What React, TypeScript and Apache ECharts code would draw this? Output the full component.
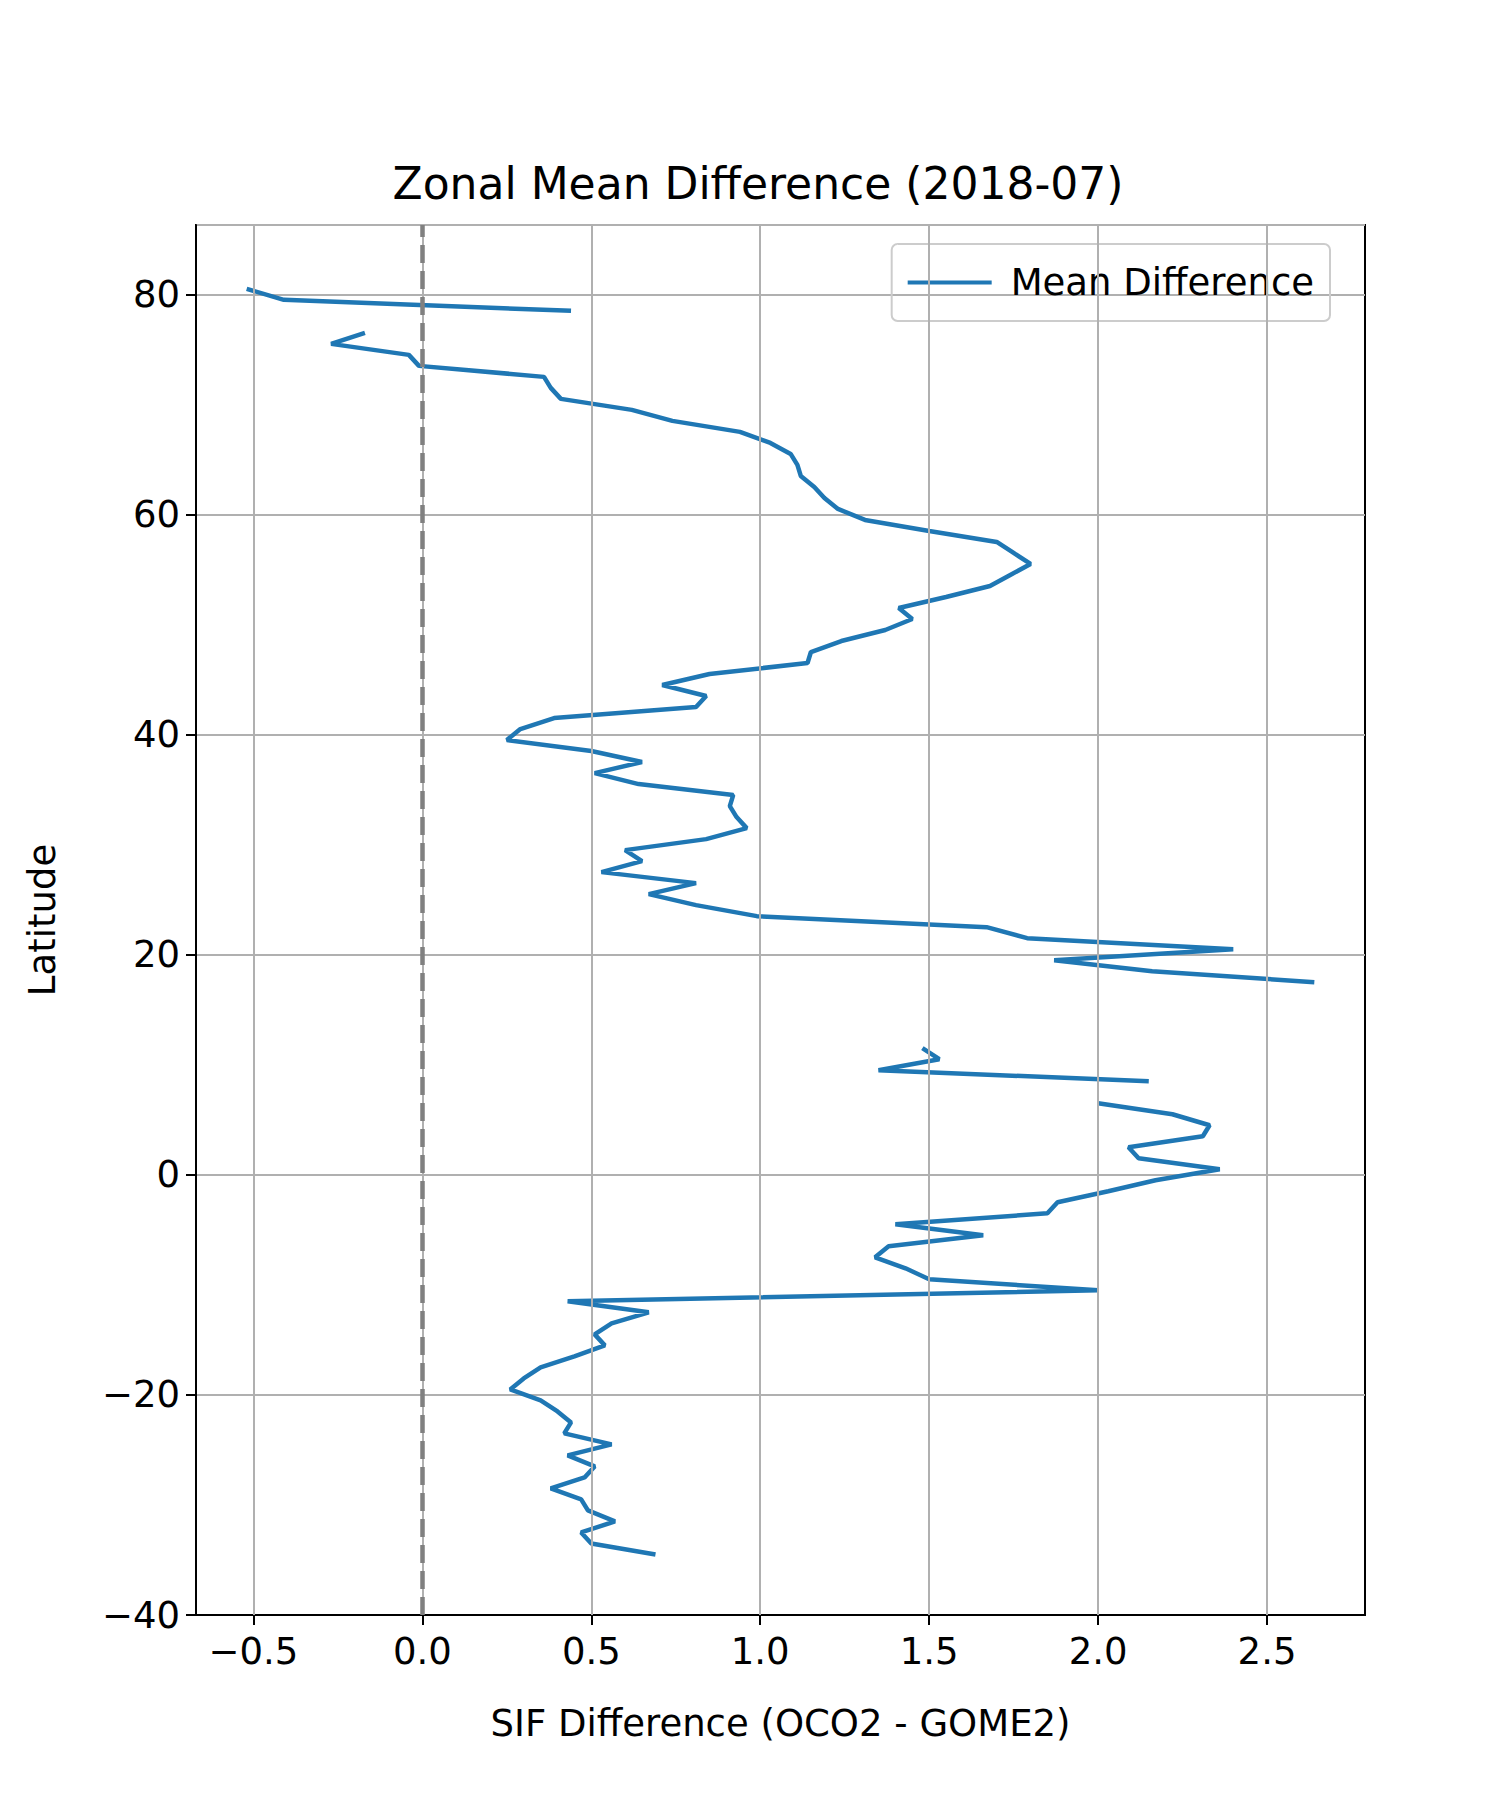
import React, { useEffect, useRef } from "react";
import * as echarts from "echarts";

const latitudes = [80.5,79.5,78.5,77.5,76.5,75.5,74.5,73.5,72.5,71.5,70.5,69.5,68.5,67.5,66.5,65.5,64.5,63.5,62.5,61.5,60.5,59.5,58.5,57.5,56.5,55.5,54.5,53.5,52.5,51.5,50.5,49.5,48.5,47.5,46.5,45.5,44.5,43.5,42.5,41.5,40.5,39.5,38.5,37.5,36.5,35.5,34.5,33.5,32.5,31.5,30.5,29.5,28.5,27.5,26.5,25.5,24.5,23.5,22.5,21.5,20.5,19.5,18.5,17.5,16.5,15.5,14.5,13.5,12.5,11.5,10.5,9.5,8.5,7.5,6.5,5.5,4.5,3.5,2.5,1.5,0.5,-0.5,-1.5,-2.5,-3.5,-4.5,-5.5,-6.5,-7.5,-8.5,-9.5,-10.5,-11.5,-12.5,-13.5,-14.5,-15.5,-16.5,-17.5,-18.5,-19.5,-20.5,-21.5,-22.5,-23.5,-24.5,-25.5,-26.5,-27.5,-28.5,-29.5,-30.5,-31.5,-32.5,-33.5,-34.5];
const meanDiff: (number | null)[] = [-0.52,-0.41,0.44,null,-0.17,-0.27,-0.04,-0.01,0.36,0.38,0.41,0.62,0.74,0.94,1.03,1.09,1.11,1.12,1.16,1.19,1.23,1.31,1.5,1.70,1.75,1.80,1.74,1.68,1.55,1.41,1.45,1.37,1.24,1.15,1.14,0.85,0.71,0.84,0.81,0.39,0.29,0.25,0.50,0.65,0.51,0.64,0.92,0.91,0.93,0.96,0.84,0.60,0.65,0.53,0.81,0.67,0.81,0.99,1.67,1.79,2.40,1.87,2.16,2.64,null,null,null,null,null,1.48,1.53,1.35,2.15,null,2.00,2.22,2.33,2.31,2.09,2.12,2.36,2.17,2.03,1.88,1.85,1.40,1.66,1.38,1.34,1.43,1.50,2.00,0.43,0.67,0.56,0.51,0.54,0.45,0.35,0.30,0.26,0.35,0.40,0.44,0.42,0.56,0.43,0.51,0.48,0.38,0.47,0.49,0.57,0.47,0.50,0.69];
const xTicks = [-0.5,0,0.5,1,1.5,2,2.5];

export default function App() {
  const ref = useRef<HTMLDivElement>(null);
  useEffect(() => {
    const chart = echarts.init(ref.current!, null, { renderer: "svg" });
    const data = latitudes.map((lat, i) => (meanDiff[i] === null ? [null, lat] : [meanDiff[i], lat]));
    const font = "DejaVu Sans";
    chart.setOption({
      animation: false,
      backgroundColor: "#fff",
      textStyle: { fontFamily: font },
      title: { text: "Zonal Mean Difference (2018-07)", left: "center", top: 148, textStyle: { fontFamily: font, fontSize: 44, fontWeight: "normal", color: "#000" } },
      legend: {
        right: 178, top: 236, orient: "vertical", itemWidth: 84, itemHeight: 4, itemGap: 10,
        padding: [20, 16, 20, 16], borderColor: "#ccc", borderWidth: 2, borderRadius: 6,
        textStyle: { fontSize: 37, color: "#000", fontFamily: font, padding: [0, 0, 0, 14] },
        data: [{ name: "Mean Difference", icon: "rect" }],
      },
      grid: { left: 188, right: 143, top: 217, bottom: 193, show: true, borderColor: "#000", borderWidth: 2 },
      xAxis: {
        type: "value", min: -0.67, max: 2.79, interval: 0.5,
        name: "SIF Difference (OCO2 - GOME2)", nameLocation: "middle", nameGap: 90,
        nameTextStyle: { fontSize: 37, color: "#000", fontFamily: font },
        axisLine: { show: true, onZero: false, lineStyle: { color: "#000", width: 2 } },
        axisTick: { show: true, length: 10, customValues: xTicks, lineStyle: { color: "#000", width: 2 } },
        axisLabel: { fontSize: 37, color: "#000", margin: 18, customValues: xTicks, formatter: (v: number) => (v < 0 ? "\u2212" : "") + Math.abs(v).toFixed(1) },
        splitLine: { show: false },
      },
      yAxis: {
        type: "value", min: -40, max: 86.3, interval: 20,
        name: "Latitude", nameLocation: "middle", nameGap: 135,
        nameTextStyle: { fontSize: 37, color: "#000", fontFamily: font },
        axisLine: { show: true, onZero: false, lineStyle: { color: "#000", width: 2 } },
        axisTick: { show: true, length: 10, lineStyle: { color: "#000", width: 2 } },
        axisLabel: { fontSize: 37, color: "#000", margin: 16, showMaxLabel: false, formatter: (v: number) => (v < 0 ? "\u2212" : "") + Math.abs(v) },
        splitLine: { show: true, lineStyle: { color: "#b0b0b0", width: 2 } },
      },
      series: [
        {
          name: "Mean Difference", type: "line", data, showSymbol: false, connectNulls: false,
          lineStyle: { color: "#1f77b4", width: 4.5 }, itemStyle: { color: "#1f77b4" }, z: 3,
          markLine: {
            silent: true, symbol: "none", label: { show: false },
            data: xTicks.map((v) => ({ xAxis: v, lineStyle: { color: "#b0b0b0", width: 2, type: "solid" } })).concat([{ xAxis: 0, lineStyle: { color: "#808080", width: 4.5, type: [18, 8] as any } } as any]),
          },
        },
      ],
    });
    return () => chart.dispose();
  }, []);
  return <div ref={ref} style={{ width: 1500, height: 1800 }} />;
}
